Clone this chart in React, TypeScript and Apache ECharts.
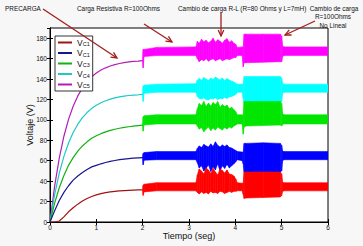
import React, { useEffect, useRef } from "react";
import * as echarts from "echarts";

// ---------- data ----------
const seriesNames = ["Vc1", "Vc2", "Vc3", "Vc4", "Vc5"];
const legendSubs = ["C1", "C1", "C3", "C4", "C5"];
const curveColors = ["#a31212", "#16168f", "#14b014", "#1ec8c8", "#b41cb4"];
const bandColors = ["#ff0000", "#0000ff", "#00e600", "#00ffff", "#ff00ff"];

// precharge (t = 0 .. 2 s)
const preT = [0, 0.1, 0.2, 0.3, 0.4, 0.5, 0.6, 0.7, 0.8, 0.9, 1.0, 1.1, 1.2, 1.3, 1.4, 1.5, 1.6, 1.7, 1.8, 1.9, 2.0];
const preVc1 = [0, 0, 1, 5, 10, 14, 17.5, 20.5, 23, 25, 26.5, 27.8, 28.8, 29.5, 30, 30.5, 30.8, 31, 31.2, 31.4, 31.5];
const preVc2 = [0, 11, 21, 29, 35.5, 41, 45, 48.5, 51.5, 54, 55.5, 57, 58.3, 59.3, 60.2, 61, 61.6, 62.1, 62.5, 62.8, 63];
const preVc3 = [0, 18.5, 33.5, 45.5, 55.5, 63, 69.5, 74.5, 78.5, 82, 84.5, 86.5, 88.3, 89.7, 90.8, 91.8, 92.6, 93.3, 93.9, 94.4, 94.8];
const preVc4 = [0, 26.7, 47.8, 64.3, 77.4, 87.7, 95.8, 102.2, 107.2, 111.3, 114.4, 116.8, 118.8, 120.3, 121.5, 122.5, 123.2, 123.9, 124.3, 124.6, 125];
const preVc5 = [0, 35.1, 62.5, 84, 100.5, 113.4, 123.5, 131.3, 137.5, 142.3, 146, 148.8, 151, 152.8, 154.2, 155.2, 156.1, 156.8, 157.3, 157.6, 158];

// load stages (t = 2 .. 6 s): lower / upper envelope of the ripple
const bandT = [2.0, 2.01, 2.03, 2.3, 3.15, 3.18, 3.22, 3.27, 3.32, 3.37, 3.42, 3.47, 3.52, 3.57, 3.62, 3.67, 3.72, 3.77, 3.82, 3.87, 3.92, 3.97, 4.01, 4.04, 4.15, 4.17, 4.19, 4.23, 4.6, 4.97, 5.0, 5.02, 5.05, 6.0];

const loVc1 = [31, 26, 29.5, 30.5, 30.5, 29, 27.5, 29.5, 28, 29, 27.5, 30, 28.5, 29, 28, 30, 29.5, 28, 29, 30, 29, 30, 30, 30.5, 30.5, 27, 23, 23.5, 24, 24.5, 26, 30, 30.5, 30.5];
const hiVc1 = [32, 36, 37, 38.5, 38.5, 46, 52, 50, 47, 53, 51, 47.5, 52.5, 49, 46, 52, 50.5, 48, 51, 47, 46.5, 45, 42, 38.5, 38, 38, 49, 49, 49, 49, 47, 39, 38.5, 38.5];

const loVc2 = [62.5, 56, 60.5, 61, 61, 58, 53, 55, 50, 52.5, 56, 49.5, 54, 51, 57, 50, 55, 52.5, 56.5, 53, 55, 57, 59, 61, 60, 57, 49, 49, 49, 49, 50, 60, 61, 61];
const hiVc2 = [63.5, 67, 68, 69, 69, 72, 74.5, 73, 76, 74.5, 73.5, 76.5, 74, 78.5, 75, 73.5, 75.5, 74, 75.5, 73, 72.5, 71, 70, 69, 68.5, 68, 77, 77, 77.5, 77, 75, 69.5, 69, 69];

const loVc3 = [94.5, 89, 95, 96, 96, 94, 91, 92.5, 88.5, 91, 93, 89.5, 92, 90, 93, 91.5, 90, 92.5, 91, 93, 92, 94, 95, 96, 96, 86, 93, 94, 94.5, 95, 94, 95.5, 96, 96];
const hiVc3 = [95.5, 103, 104, 105, 105, 111, 116, 114, 118, 113, 116.5, 113.5, 117, 115, 118, 112.5, 115, 113, 114.5, 111, 112.5, 110, 108, 105, 105, 104, 118, 118, 118, 118, 116, 106, 105, 105];

const loVc4 = [124.5, 118, 126, 127, 127, 123, 121, 120.5, 121.5, 120, 119.5, 121, 120.5, 121.5, 120, 121, 120.5, 122, 121, 122.5, 123, 124, 125, 127, 127, 121, 117, 117, 117, 117, 118, 126, 127, 127];
const hiVc4 = [125.5, 133, 134, 135, 135.5, 139, 140.5, 139, 141.5, 140, 138.5, 141, 139.5, 142, 140.5, 139, 141, 138.5, 140.5, 139, 138, 137, 136, 135, 135, 135, 142.5, 142.5, 142.5, 142.5, 141, 136, 135, 135];

const loVc5 = [157.5, 151, 162, 163, 163, 160, 157, 159, 158, 160, 157.5, 159, 160, 158, 159, 160, 158, 159, 160, 159, 160, 161, 161, 163, 163, 152, 156, 156, 156.5, 157, 157, 162, 163, 163];
const hiVc5 = [158.5, 169, 169, 171, 171.5, 177, 175, 179, 176.5, 178, 175.5, 177, 180, 176, 178.5, 177, 175, 178, 179.5, 176, 177.5, 175, 174, 171, 171.5, 171, 184, 184, 184, 184, 182, 172.5, 171.5, 171.5];

const xMin = 0, xMax = 6, xStep = 1;
const yMin = 0, yMax = 190, yStep = 20;

const preData = [preVc1, preVc2, preVc3, preVc4, preVc5];
const loData = [loVc1, loVc2, loVc3, loVc4, loVc5];
const hiData = [hiVc1, hiVc2, hiVc3, hiVc4, hiVc5];

const FONT = "Liberation Sans, Arial, Helvetica, sans-serif";
const ANN = "#a51c1c";

function arrow(x1: number, y1: number, x2: number, y2: number) {
  const dx = x2 - x1, dy = y2 - y1;
  const L = Math.hypot(dx, dy);
  const ux = dx / L, uy = dy / L;
  const h = 6, w = 2.8;
  const bx = x2 - ux * h, by = y2 - uy * h;
  return [
    { type: "line", z: 100, shape: { x1, y1, x2, y2 }, style: { stroke: ANN, lineWidth: 1.3 } },
    {
      type: "polyline", z: 100,
      shape: { points: [[bx - uy * w, by + ux * w], [x2, y2], [bx + uy * w, by - ux * w]] },
      style: { stroke: ANN, lineWidth: 1.3, fill: null },
    },
  ];
}

function txt(text: string, x: number, y: number, align: string) {
  return {
    type: "text", z: 100, x, y,
    style: { text, fontSize: 6.4, fontFamily: FONT, fill: "#111", align, verticalAlign: "middle" },
  };
}

function bandRender(color: string) {
  return (params: any, api: any) => {
    const i = params.dataIndexInside;
    if (i >= params.dataInsideLength - 1) return null;
    const t0 = api.value(0, i), lo0 = api.value(1, i), hi0 = api.value(2, i);
    const t1 = api.value(0, i + 1), lo1 = api.value(1, i + 1), hi1 = api.value(2, i + 1);
    const pts = [api.coord([t0, lo0]), api.coord([t1, lo1]), api.coord([t1, hi1]), api.coord([t0, hi0])];
    return {
      type: "polygon",
      shape: { points: pts },
      style: { fill: color, stroke: color, lineWidth: 0.6 },
    };
  };
}

export default function App() {
  const ref = useRef<HTMLDivElement>(null);
  useEffect(() => {
    if (!ref.current) return;
    const chart = echarts.init(ref.current, undefined, { renderer: "svg" });

    const series: any[] = [];
    // plot order: Vc5 first, Vc1 last (on top)
    for (let k = 4; k >= 0; k--) {
      const name = seriesNames[k];
      series.push({
        name, type: "line", xAxisIndex: 0, yAxisIndex: 0,
        data: preT.map((t, i) => [t, preData[k][i]]),
        showSymbol: false, symbol: "none",
        lineStyle: { color: curveColors[k], width: 1.2 },
        itemStyle: { color: curveColors[k] },
      });
      series.push({
        name: name + " banda", type: "custom", xAxisIndex: 0, yAxisIndex: 0,
        data: bandT.map((t, i) => [t, loData[k][i], hiData[k][i]]),
        encode: { x: 0, y: [1, 2] },
        renderItem: bandRender(bandColors[k]),
        clip: true,
      });
    }

    const axisCommonX = {
      type: "value", min: xMin, max: xMax, interval: xStep,
      axisLine: { lineStyle: { color: "#000", width: 1 } },
      axisTick: { inside: true, length: 3, lineStyle: { color: "#000" } },
      splitLine: { show: false },
    };
    const axisCommonY = {
      type: "value", min: yMin, max: yMax, interval: yStep,
      axisLine: { show: true, lineStyle: { color: "#000", width: 1 } },
      axisTick: { show: true, inside: true, length: 3, lineStyle: { color: "#000" } },
      splitLine: { show: false },
    };

    chart.setOption({
      animation: false,
      backgroundColor: "#f7f7f7",
      grid: { left: 50, right: 35, top: 28, bottom: 24, show: true, backgroundColor: "#fff", borderColor: "#000", borderWidth: 1 },
      xAxis: [
        {
          ...axisCommonX, position: "bottom",
          name: "Tiempo (seg)", nameLocation: "middle", nameGap: 9, nameMoveOverlap: false,
          nameTextStyle: { fontSize: 9, fontFamily: FONT, color: "#111" },
          axisLabel: { fontSize: 6.5, fontFamily: FONT, color: "#111", margin: 2 },
        },
        { ...axisCommonX, position: "top", axisLabel: { show: false } },
      ],
      yAxis: [
        {
          ...axisCommonY, position: "left",
          name: "Voltaje (V)", nameLocation: "middle", nameGap: 16, nameMoveOverlap: false,
          nameTextStyle: { fontSize: 9, fontFamily: FONT, color: "#111" },
          axisLabel: { fontSize: 6.5, fontFamily: FONT, color: "#111", margin: 3, showMaxLabel: false },
        },
        { ...axisCommonY, position: "right", axisLabel: { show: false } },
      ],
      legend: {
        data: seriesNames,
        orient: "vertical", left: 55, top: 36,
        itemWidth: 14, itemHeight: 2, itemGap: 1.5, icon: "rect",
        padding: [2, 3, 2, 3],
        backgroundColor: "#fff", borderColor: "#000", borderWidth: 0.8, borderRadius: 0,
        formatter: (n: string) => `{v|V}{s|${legendSubs[seriesNames.indexOf(n)]}}`,
        textStyle: {
          rich: {
            v: { fontSize: 8.5, fontFamily: FONT, color: "#111", lineHeight: 9 },
            s: { fontSize: 5.5, fontFamily: FONT, color: "#111", verticalAlign: "bottom", lineHeight: 5, padding: [2, 0, 0, 0] },
          },
        },
      },
      graphic: [
        txt("PRECARGA", 5, 8, "left"),
        txt("Carga Resistiva R=100Ohms", 77, 8, "left"),
        txt("Cambio de carga R-L (R=80 Ohms y L=7mH)", 178, 8, "left"),
        txt("Cambio de carga", 334, 8, "center"),
        txt("R=100Ohms", 333, 16.5, "center"),
        txt("No Lineal", 333, 25.5, "center"),
        ...arrow(43, 9, 117, 58),
        ...arrow(144, 24, 172, 42),
        ...arrow(221, 13, 221, 36),
        ...arrow(315, 21, 285, 35),
      ],
      series,
    });
    return () => chart.dispose();
  }, []);
  return <div ref={ref} style={{ position: "fixed", left: 0, top: 0, width: 363, height: 246 }} />;
}
